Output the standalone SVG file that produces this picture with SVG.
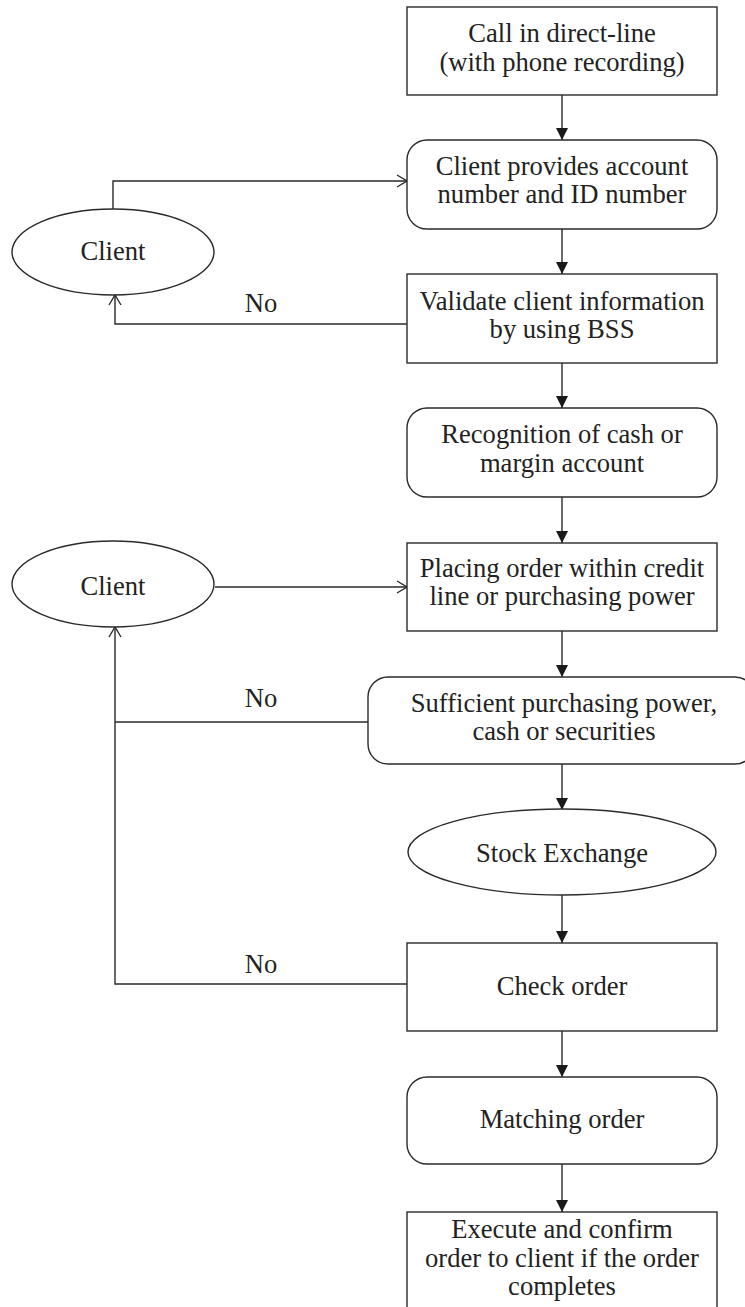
<svg xmlns="http://www.w3.org/2000/svg" width="745" height="1307" viewBox="0 0 745 1307">
<style>
.n{fill:#fff;stroke:#2a2a2a;stroke-width:1.4}
.t{font-family:"Liberation Serif","Times New Roman",serif;font-size:26.6px;fill:#222;text-anchor:middle}
.c{fill:none;stroke:#2a2a2a;stroke-width:1.4}
</style>
<defs>
<marker id="f" markerWidth="12" markerHeight="12" viewBox="0 0 12 12" refX="12" refY="6" orient="auto" markerUnits="userSpaceOnUse">
<path d="M0,0 L12,6 L0,12 Z" fill="#1a1a1a"/>
</marker>
<marker id="o" markerWidth="12" markerHeight="14" viewBox="0 0 12 14" refX="11" refY="7" orient="auto" markerUnits="userSpaceOnUse">
<path d="M1,1 L11,7 L1,13" fill="none" stroke="#2a2a2a" stroke-width="1.4"/>
</marker>
</defs>
<rect width="745" height="1307" fill="#fff"/>
<g id="connectors">
<path class="c" d="M562 95 V140" marker-end="url(#f)"/>
<path class="c" d="M562 229 V274" marker-end="url(#f)"/>
<path class="c" d="M562 363 V408" marker-end="url(#f)"/>
<path class="c" d="M562 497 V543" marker-end="url(#f)"/>
<path class="c" d="M562 631 V677" marker-end="url(#f)"/>
<path class="c" d="M562 764 V810" marker-end="url(#f)"/>
<path class="c" d="M562 895 V943" marker-end="url(#f)"/>
<path class="c" d="M562 1031 V1077" marker-end="url(#f)"/>
<path class="c" d="M562 1164 V1212" marker-end="url(#f)"/>
<path class="c" d="M113 209 V181 H407" marker-end="url(#o)"/>
<path class="c" d="M407 324 H115 V295" marker-end="url(#o)"/>
<path class="c" d="M215 587 H407" marker-end="url(#o)"/>
<path class="c" d="M368 722 H115"/>
<path class="c" d="M407 984 H115 V627" marker-end="url(#o)"/>
<text class="t" x="261" y="312">No</text>
<text class="t" x="261" y="707">No</text>
<text class="t" x="261" y="973">No</text>
</g>
<g id="call">
<rect class="n" x="407" y="7" width="310" height="88"/>
<text class="t" x="562" y="42">Call in direct-line</text>
<text class="t" x="562" y="71">(with phone recording)</text>
</g>
<g id="provide">
<rect class="n" x="407" y="140" width="310" height="89" rx="20"/>
<text class="t" x="562" y="175">Client provides account</text>
<text class="t" x="562" y="203">number and ID number</text>
</g>
<g id="client1">
<ellipse class="n" cx="113" cy="252" rx="101" ry="43"/>
<text class="t" x="113" y="260">Client</text>
</g>
<g id="validate">
<rect class="n" x="407" y="274" width="310" height="89"/>
<text class="t" x="562" y="310">Validate client information</text>
<text class="t" x="562" y="338">by using BSS</text>
</g>
<g id="recognition">
<rect class="n" x="407" y="408" width="310" height="89" rx="20"/>
<text class="t" x="562" y="443">Recognition of cash or</text>
<text class="t" x="562" y="472">margin account</text>
</g>
<g id="client2">
<ellipse class="n" cx="113" cy="584" rx="101" ry="43"/>
<text class="t" x="113" y="595">Client</text>
</g>
<g id="placing">
<rect class="n" x="407" y="543" width="310" height="88"/>
<text class="t" x="562" y="577">Placing order within credit</text>
<text class="t" x="562" y="605">line or purchasing power</text>
</g>
<g id="sufficient">
<rect class="n" x="368" y="677" width="387" height="87" rx="20"/>
<text class="t" x="564" y="712">Sufficient purchasing power,</text>
<text class="t" x="564" y="740">cash or securities</text>
</g>
<g id="exchange">
<ellipse class="n" cx="562" cy="852" rx="154" ry="43"/>
<text class="t" x="562" y="862">Stock Exchange</text>
</g>
<g id="check">
<rect class="n" x="407" y="943" width="310" height="88"/>
<text class="t" x="562" y="995">Check order</text>
</g>
<g id="matching">
<rect class="n" x="407" y="1077" width="310" height="87" rx="20"/>
<text class="t" x="562" y="1128">Matching order</text>
</g>
<g id="execute">
<rect class="n" x="407" y="1212" width="310" height="100"/>
<text class="t" x="562" y="1238">Execute and confirm</text>
<text class="t" x="562" y="1267">order to client if the order</text>
<text class="t" x="562" y="1295">completes</text>
</g>
</svg>
